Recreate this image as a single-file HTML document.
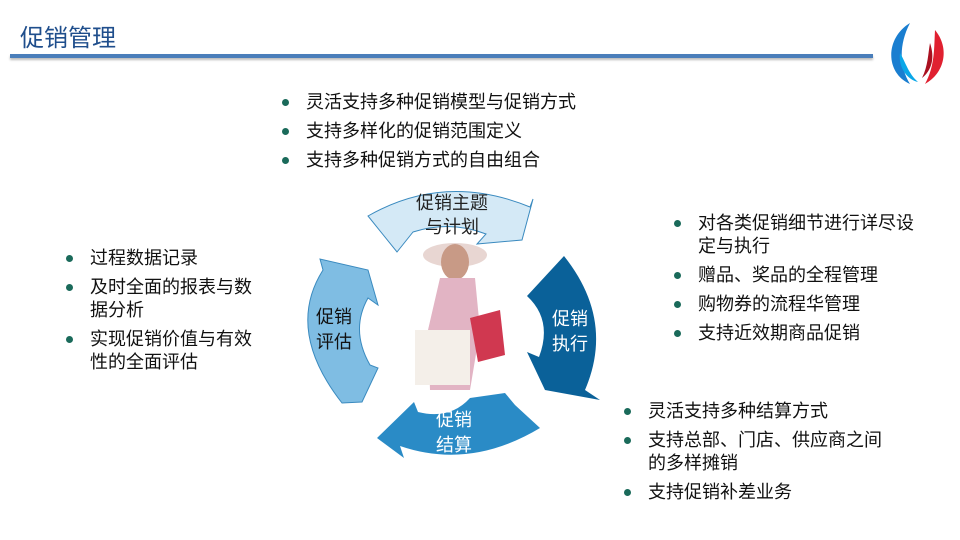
<!DOCTYPE html>
<html><head><meta charset="utf-8"><style>
body{margin:0;background:#fff;}
.w{position:relative;width:960px;height:540px;overflow:hidden;font-family:"Liberation Sans","Noto Sans CJK SC",sans-serif;}
.t{position:absolute;left:20px;top:18px;font-size:24px;color:#1f4e8c;}
.bar{position:absolute;left:10px;top:54px;width:863px;height:4px;background:#4a7eba;box-shadow:0 2px 2px #bbb;}
ul{position:absolute;margin:0;padding:0;list-style:none;font-size:18px;color:#111;line-height:23px;}
li{position:relative;padding-left:28px;margin-bottom:6px;}
li:before{content:"";position:absolute;left:4px;top:8px;width:7px;height:7px;border-radius:50%;background:#1a6a5a;}
</style></head><body><div class="w">
<div class="t">促销管理</div><div class="bar"></div>
<svg style="position:absolute;left:880px;top:18px" width="70" height="70" viewBox="0 0 70 70">
<path d="M30,5 C5,20 5,55 30,66 C20,50 18,28 30,5Z" fill="#1a7ed0"/>
<path d="M20,35 C18,50 28,62 38,64 C28,55 26,45 20,35Z" fill="#0aa7e8"/>
<path d="M55,12 C70,30 65,55 45,66 C55,48 54,30 55,12Z" fill="#e02030"/>
<path d="M50,25 C55,40 52,52 42,60 C48,48 48,36 50,25Z" fill="#aa1020"/>
</svg>
<ul style="left:278px;top:91px"><li>灵活支持多种促销模型与促销方式</li><li>支持多样化的促销范围定义</li><li>支持多种促销方式的自由组合</li></ul>
<ul style="left:62px;top:247px;width:205px"><li>过程数据记录</li><li>及时全面的报表与数据分析</li><li>实现促销价值与有效性的全面评估</li></ul>
<ul style="left:670px;top:212px;width:258px"><li>对各类促销细节进行详尽设定与执行</li><li>赠品、奖品的全程管理</li><li>购物券的流程华管理</li><li>支持近效期商品促销</li></ul>
<ul style="left:620px;top:400px;width:270px"><li>灵活支持多种结算方式</li><li>支持总部、门店、供应商之间的多样摊销</li><li>支持促销补差业务</li></ul>
<svg style="position:absolute;left:0;top:0" width="960" height="540">
<path d="M368,216 Q445,172 530,207 L533,199 L522,240 L477,244 L486,234 Q450,220 413,232 L397,252 Z" fill="#d4e9f6" stroke="#3a8abf" stroke-width="1"/>
<path d="M564,256 Q615,320 585,390 L600,400 L545,390 L527,352 L539,357 Q553,320 527,296 Z" fill="#0a6199"/>
<path d="M540,428 Q470,470 400,446 L404,458 L377,438 L414,402 L418,412 Q450,420 470,398 L505,393 L515,405 Z" fill="#2a8bc6"/>
<path d="M342,403 Q285,330 323,270 L320,259 L368,270 L378,305 L368,298 Q350,330 370,365 L378,368 L362,402 Z" fill="#7fbde3" stroke="#3a8abf" stroke-width="1"/>
<ellipse cx="455" cy="255" rx="32" ry="12" fill="#e8d6d2"/>
<ellipse cx="455" cy="262" rx="14" ry="18" fill="#c89a86"/>
<path d="M440,278 L475,278 L480,330 L470,390 L430,390 L428,330 Z" fill="#e2b4c4"/>
<rect x="415" y="330" width="55" height="55" fill="#f4efe9"/>
<path d="M470,318 L500,310 L505,355 L478,362 Z" fill="#d03850"/>
</svg>
<div style="position:absolute;left:412px;top:191px;width:80px;text-align:center;font-size:18px;line-height:24px;color:#222">促销主题<br>与计划</div>
<div style="position:absolute;left:316px;top:305px;font-size:18px;line-height:25px;color:#111">促销<br>评估</div>
<div style="position:absolute;left:552px;top:307px;font-size:18px;line-height:25px;color:#fff">促销<br>执行</div>
<div style="position:absolute;left:436px;top:408px;font-size:18px;line-height:25px;color:#fff">促销<br>结算</div>
</div></body></html>
